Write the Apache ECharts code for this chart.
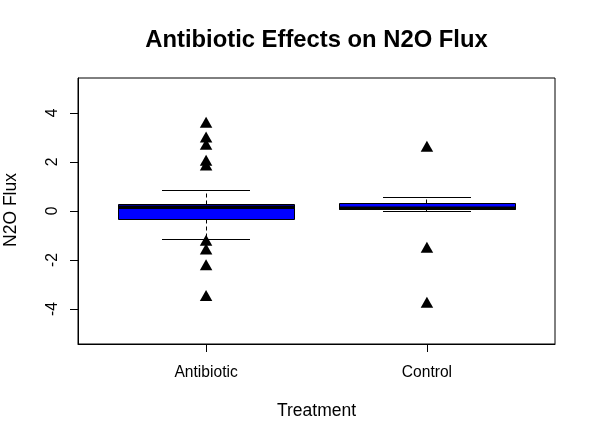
<!DOCTYPE html>
<html><head><meta charset="utf-8">
<script src="https://cdn.jsdelivr.net/npm/echarts@6/dist/echarts.min.js"></script>
<style>html,body{margin:0;padding:0;background:#fff}#c{width:596px;height:442px}</style>
</head><body><div id="c"></div>
<script>
const categories = ['Antibiotic', 'Control'];
const whiskerLow = [-1.18, -0.04];
const q1 = [-0.335, 0.07];
const median = [0.155, 0.115];
const q3 = [0.265, 0.31];
const whiskerHigh = [0.83, 0.57];
const antibioticOutliers = [3.55, 2.95, 2.65, 2.0, 1.8, -1.27, -1.62, -2.27, -3.52];
const controlOutliers = [2.57, -1.55, -3.8];
const yTicks = [-4, -2, 0, 2, 4];
const xPositions = [1, 2];

const FONT = '"Liberation Sans", Arial, sans-serif';
const chart = echarts.init(document.getElementById('c'), null, {renderer: 'canvas'});

const boxData = categories.map((c, i) => [xPositions[i], whiskerLow[i], q1[i], median[i], q3[i], whiskerHigh[i]]);
const outlierData = [];
antibioticOutliers.forEach(v => outlierData.push([xPositions[0], v]));
controlOutliers.forEach(v => outlierData.push([xPositions[1], v]));

function crisp(v) { return Math.round(v - 0.5) + 0.5; }

const option = {
  animation: false,
  backgroundColor: '#fff',
  grid: {left: 78, right: 41, top: 78, bottom: 98, show: true, borderColor: '#000', borderWidth: 1, backgroundColor: 'transparent'},
  xAxis: {
    type: 'value', min: 0.42, max: 2.58,
    splitLine: {show: false},
    axisLine: {show: true, onZero: false, lineStyle: {color: '#000', width: 1}},
    axisTick: {show: true, customValues: xPositions, length: 8, lineStyle: {color: '#000'}},
    axisLabel: {show: true, customValues: xPositions, margin: 21, color: '#000', fontFamily: FONT, fontSize: 15.6,
      formatter: v => categories[xPositions.indexOf(Math.round(v))] || ''}
  },
  yAxis: {
    type: 'value', min: -5.43, max: 5.43,
    splitLine: {show: false},
    axisLine: {show: true, onZero: false, lineStyle: {color: '#000', width: 1}},
    axisTick: {show: true, customValues: yTicks, length: 8, lineStyle: {color: '#000'}},
    axisLabel: {show: true, customValues: yTicks, rotate: 90, margin: 17, color: '#000', fontFamily: FONT, fontSize: 15.6,
      formatter: v => String(Math.round(v))}
  },
  graphic: [
    {type: 'text', x: 316.5, y: 40, style: {text: 'Antibiotic Effects on N2O Flux', font: 'bold 23.8px ' + FONT, fill: '#000', textAlign: 'center', textVerticalAlign: 'middle', align: 'center', verticalAlign: 'middle'}},
    {type: 'text', x: 316.5, y: 411, style: {text: 'Treatment', font: '17.5px ' + FONT, fill: '#000', textAlign: 'center', textVerticalAlign: 'middle', align: 'center', verticalAlign: 'middle'}},
    {type: 'text', x: 11.5, y: 210, rotation: Math.PI / 2, style: {text: 'N2O Flux', font: '17.5px ' + FONT, fill: '#000', textAlign: 'center', textVerticalAlign: 'middle', align: 'center', verticalAlign: 'middle'}}
  ],
  series: [
    {
      type: 'custom',
      data: boxData,
      renderItem: function (params, api) {
        const x = api.value(0);
        const wl = api.value(1), a = api.value(2), m = api.value(3), b = api.value(4), wh = api.value(5);
        const cx = crisp(api.coord([x, 0])[0]);
        const bl = Math.round(api.coord([x - 0.4, 0])[0]) + 0.5;
        const br = Math.round(api.coord([x + 0.4, 0])[0]) + 0.5;
        const cl = Math.round(api.coord([x - 0.2, 0])[0]);
        const cr = Math.round(api.coord([x + 0.2, 0])[0]);
        const yWl = crisp(api.coord([x, wl])[1]);
        const yA = crisp(api.coord([x, a])[1]);
        const yM = api.coord([x, m])[1];
        const yB = crisp(api.coord([x, b])[1]);
        const yWh = crisp(api.coord([x, wh])[1]);
        const dash = {stroke: '#000', lineWidth: 1, lineDash: [4, 3]};
        const solid = {stroke: '#000', lineWidth: 1};
        return {
          type: 'group',
          children: [
            {type: 'line', shape: {x1: cx, y1: yB, x2: cx, y2: yWh}, style: dash},
            {type: 'line', shape: {x1: cx, y1: yA, x2: cx, y2: yWl}, style: dash},
            {type: 'line', shape: {x1: cl, y1: yWh, x2: cr, y2: yWh}, style: solid},
            {type: 'line', shape: {x1: cl, y1: yWl, x2: cr, y2: yWl}, style: solid},
            {type: 'rect', shape: {x: bl, y: yB, width: br - bl, height: yA - yB}, style: {fill: '#0000FF', stroke: '#000', lineWidth: 1}},
            {type: 'line', shape: {x1: bl, y1: yM, x2: br, y2: yM}, style: {stroke: '#000', lineWidth: 3.5}}
          ]
        };
      },
      z: 2
    },
    {
      type: 'scatter',
      data: outlierData,
      symbol: 'triangle',
      symbolSize: [12.5, 11],
      symbolOffset: [0, -1.8],
      itemStyle: {color: '#000', opacity: 1},
      z: 3
    }
  ]
};
chart.setOption(option);
</script>
</body></html>
